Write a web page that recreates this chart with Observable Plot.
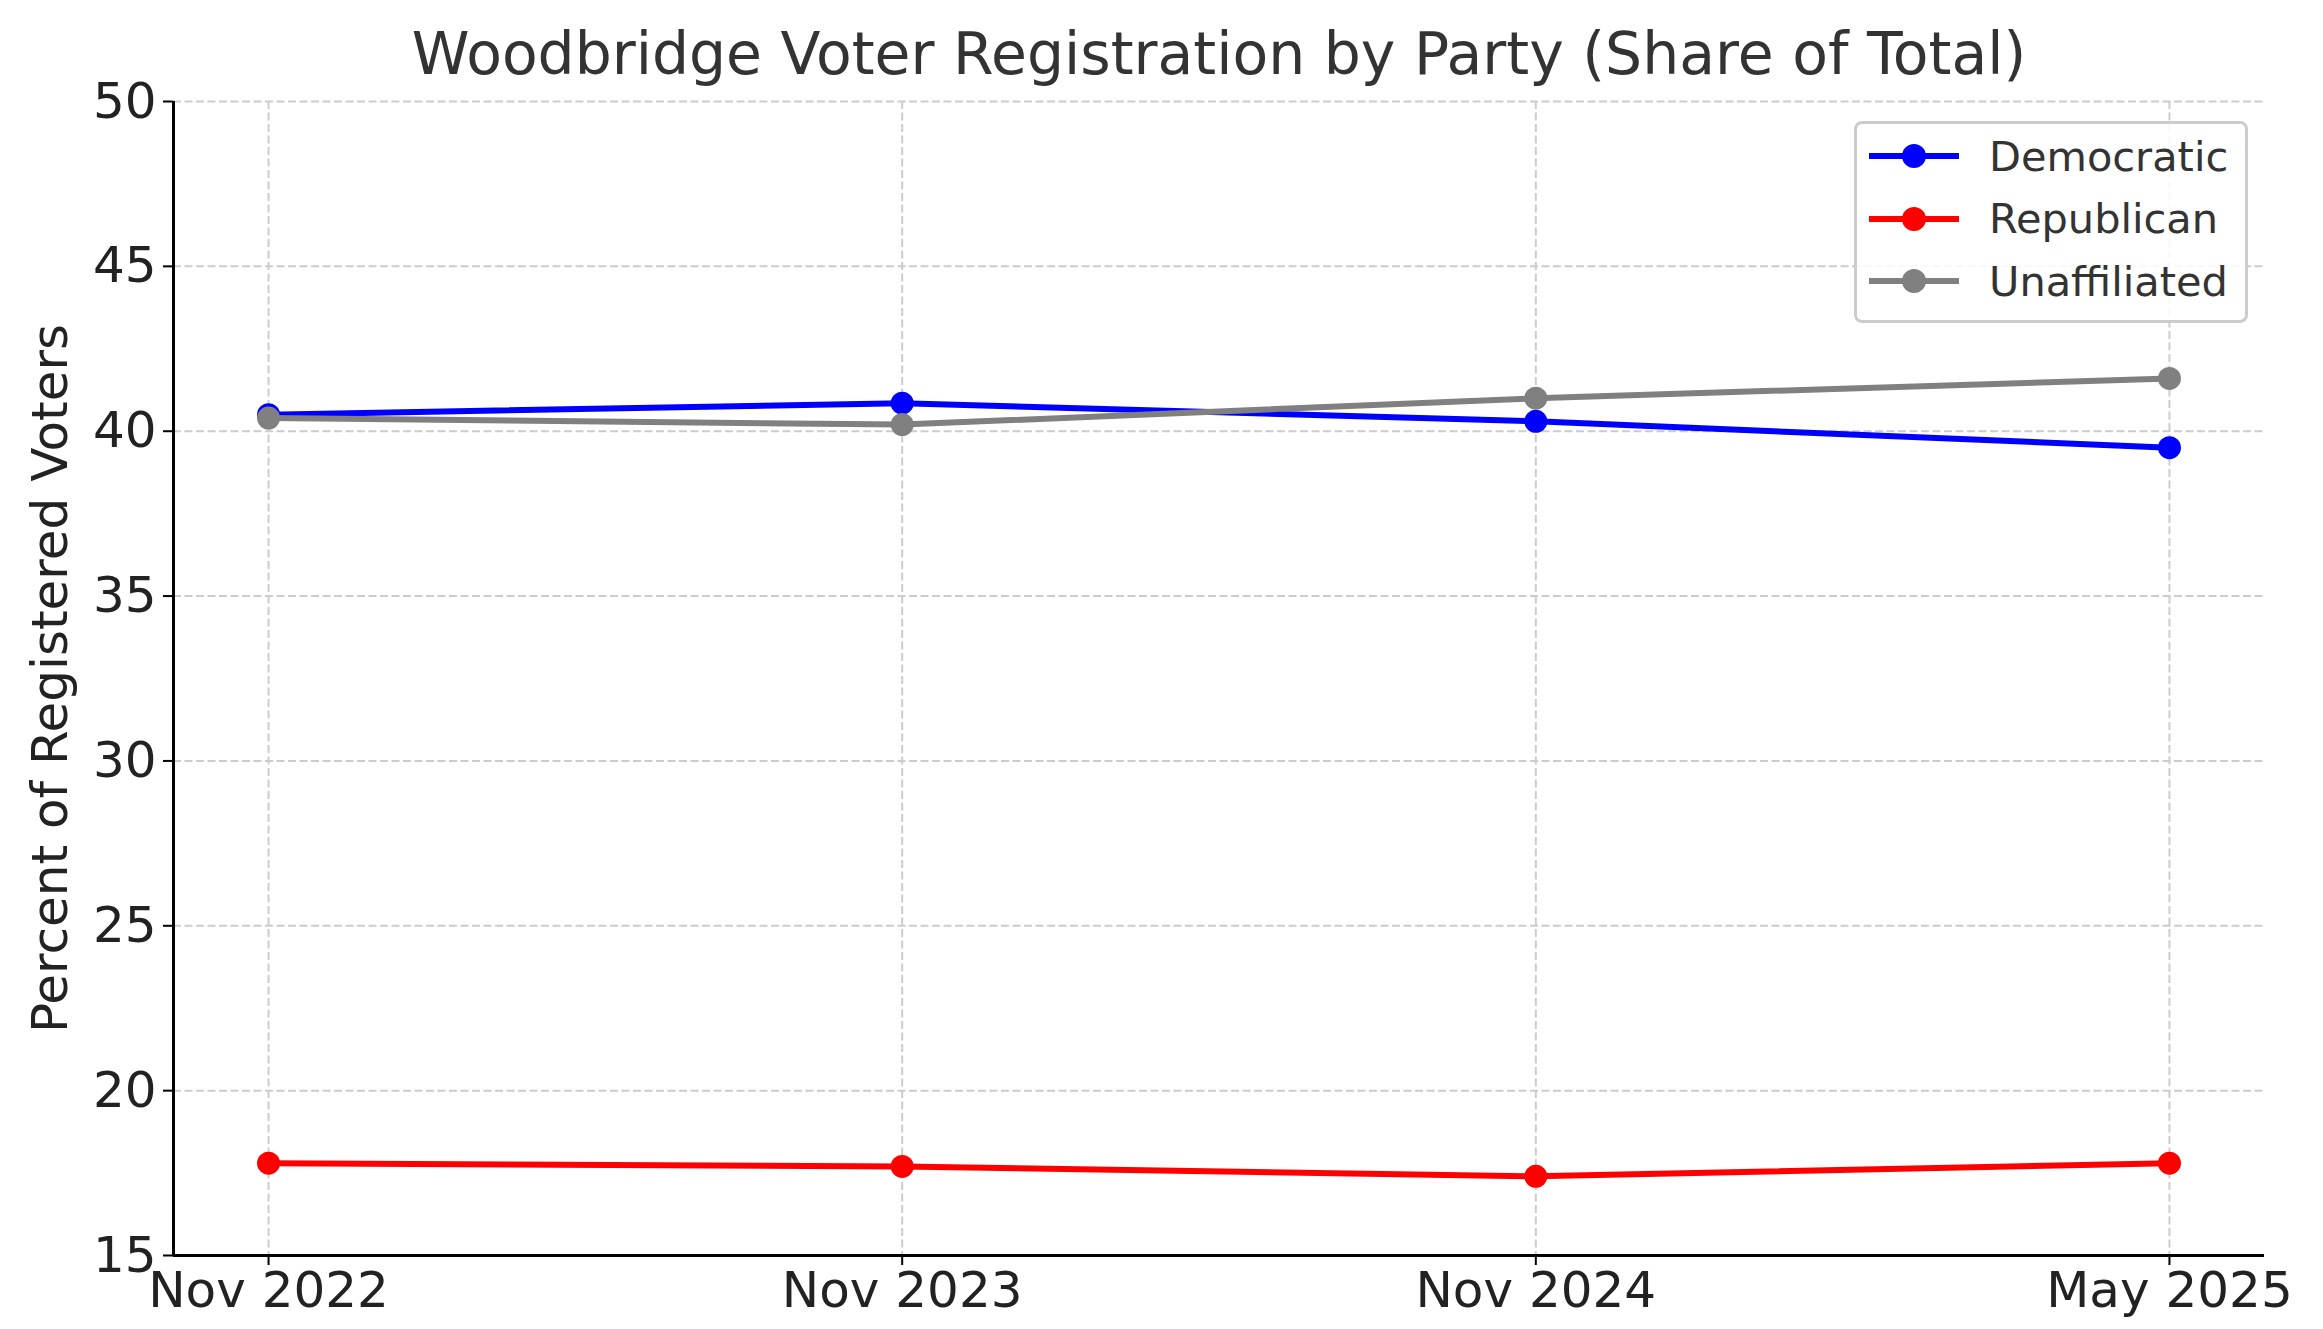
<!DOCTYPE html>
<html>
<head>
<meta charset="utf-8">
<script src="https://cdn.jsdelivr.net/npm/d3@7"></script>
<script src="https://cdn.jsdelivr.net/npm/@observablehq/plot@0.6"></script>
<style>
  html, body { margin: 0; padding: 0; background: #fff; }
  #wrap { position: relative; width: 2323px; height: 1329px; font-family: "DejaVu Sans", sans-serif; }
  #legend { position: absolute; left: 1854px; top: 121px; width: 388px; height: 196px;
    border: 3px solid #cccccc; border-radius: 8px; background: rgba(255,255,255,0.85); }
  .row { position: absolute; left: 0; height: 60px; display: flex; align-items: center; }
  .row svg { margin-left: 12px; }
  .row span { font-size: 41.5px; color: #333; margin-left: 30px; }
</style>
</head>
<body>
<div id="wrap"></div>
<script>
const periods = ["Nov 2022", "Nov 2023", "Nov 2024", "May 2025"];
const democratic = [40.5, 40.85, 40.3, 39.5];
const republican = [17.8, 17.7, 17.4, 17.8];
const unaffiliated = [40.4, 40.2, 41.0, 41.6];
const parties = ["Democratic", "Republican", "Unaffiliated"];
const partyColors = ["#0000ff", "#ff0000", "#808080"];
const yTicks = [15, 20, 25, 30, 35, 40, 45, 50];
const titleText = "Woodbridge Voter Registration by Party (Share of Total)";
const yLabel = "Percent of Registered Voters";

const seriesValues = [democratic, republican, unaffiliated];
const rows = parties.map((p, k) => seriesValues[k].map((v, i) => ({i, party: p, value: v})));
const xIdx = periods.map((_, i) => i);
const xDomain = [-0.15, periods.length - 1 + 0.15];
const yDomain = [15, 50];

const seriesMarks = rows.flatMap((data, k) => [
  Plot.line(data, {x: "i", y: "value", stroke: partyColors[k], strokeWidth: 6}),
  Plot.dot(data, {x: "i", y: "value", fill: partyColors[k], r: 11.5, stroke: "none"})
]);

const chart = Plot.plot({
  width: 2323,
  height: 1329,
  marginLeft: 173,
  marginRight: 59,
  marginTop: 101,
  marginBottom: 74,
  style: {fontFamily: "DejaVu Sans, sans-serif", fontSize: "50px", background: "white", color: "#222"},
  x: {domain: xDomain, axis: null},
  y: {domain: yDomain, axis: null},
  marks: [
    Plot.gridX(xIdx, {stroke: "#cccccc", strokeOpacity: 1, strokeWidth: 2, strokeDasharray: "8,3.5"}),
    Plot.gridY(yTicks, {stroke: "#cccccc", strokeOpacity: 1, strokeWidth: 2, strokeDasharray: "8,3.5"}),
    Plot.axisX(xIdx, {tickSize: 10, tickPadding: 6, tickFormat: i => periods[i], fontSize: 50, label: null, stroke: "#000", strokeWidth: 2}),
    Plot.axisY(yTicks, {tickSize: 10, tickPadding: 7, fontSize: 50, label: null, stroke: "#000", strokeWidth: 2}),
    Plot.ruleY([yDomain[0]], {stroke: "#000", strokeWidth: 3}),
    Plot.ruleX([xDomain[0]], {stroke: "#000", strokeWidth: 3}),
    ...seriesMarks,
    Plot.text([titleText], {frameAnchor: "top", dy: -46, fontSize: 58.4, fill: "#333", lineAnchor: "middle"}),
    Plot.text([yLabel], {frameAnchor: "left", dx: -123, rotate: -90, fontSize: 50, fill: "#222", lineAnchor: "middle", textAnchor: "middle"})
  ]
});
const wrap = document.getElementById("wrap");
wrap.appendChild(chart);

const legend = document.createElement("div");
legend.id = "legend";
parties.forEach((p, k) => {
  const row = document.createElement("div");
  row.className = "row";
  row.style.top = (k * 62.5 + 2) + "px";
  row.innerHTML = `<svg width="90" height="30"><line x1="0" x2="90" y1="15" y2="15" stroke="${partyColors[k]}" stroke-width="6"/><circle cx="45" cy="15" r="12" fill="${partyColors[k]}"/></svg><span>${p}</span>`;
  legend.appendChild(row);
});
wrap.appendChild(legend);
</script>
</body>
</html>
